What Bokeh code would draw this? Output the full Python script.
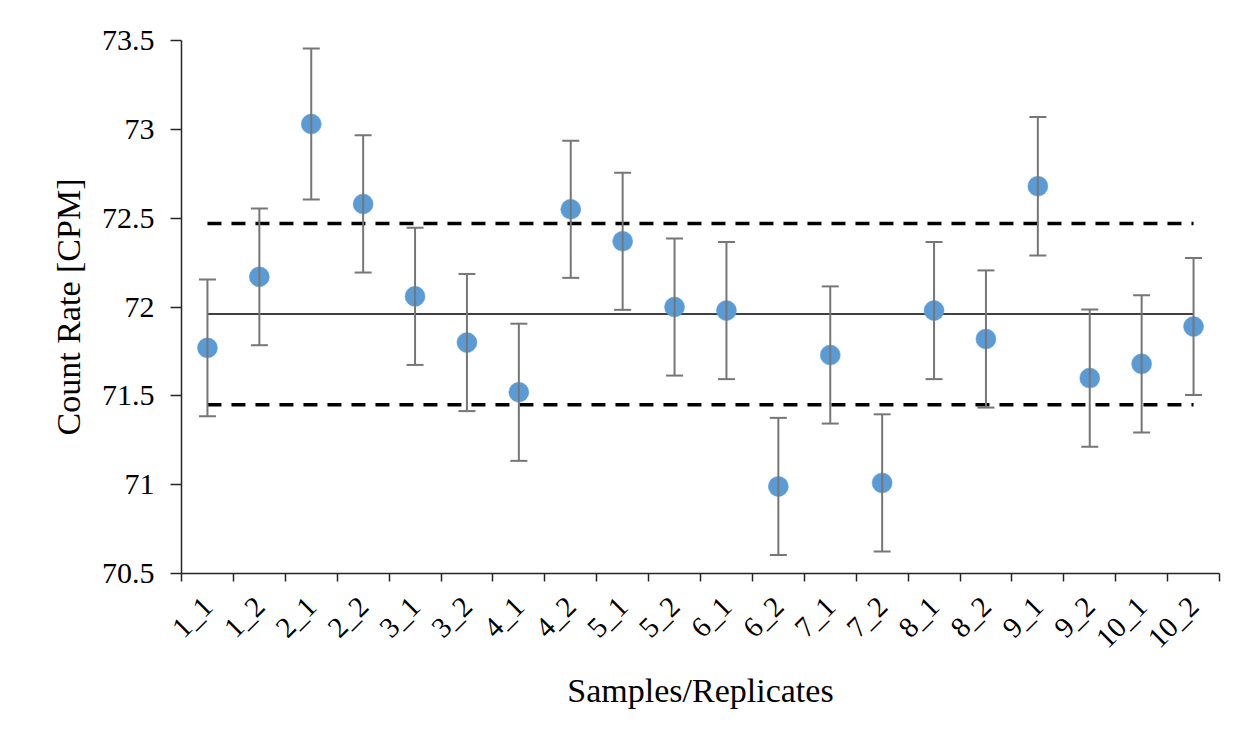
from bokeh.plotting import figure
from bokeh.models import (ColumnDataSource, Whisker, TeeHead, LinearAxis, FixedTicker,
                          CustomJSTickFormatter)
from bokeh.embed import file_html
from bokeh.resources import INLINE

# ---- data ----
samples = ["1_1", "1_2", "2_1", "2_2", "3_1", "3_2", "4_1", "4_2", "5_1", "5_2",
           "6_1", "6_2", "7_1", "7_2", "8_1", "8_2", "9_1", "9_2", "10_1", "10_2"]
count_rate = [71.77, 72.17, 73.03, 72.58, 72.06, 71.80, 71.52, 72.55, 72.37, 72.00,
              71.98, 70.99, 71.73, 71.01, 71.98, 71.82, 72.68, 71.60, 71.68, 71.89]
error = [0.385, 0.385, 0.425, 0.386, 0.386, 0.386, 0.386, 0.386, 0.386, 0.386,
         0.386, 0.386, 0.386, 0.386, 0.386, 0.386, 0.39, 0.386, 0.386, 0.386]
mean_value = 71.96
upper_limit = 72.47
lower_limit = 71.45
y_ticks = [70.5, 71.0, 71.5, 72.0, 72.5, 73.0, 73.5]

FONT = "Liberation Serif"

source = ColumnDataSource(dict(
    x=samples,
    y=count_rate,
    upper=[v + e for v, e in zip(count_rate, error)],
    lower=[v - e for v, e in zip(count_rate, error)],
))

p = figure(x_range=samples, y_range=(y_ticks[0], y_ticks[-1]),
           width=1242, height=741, output_backend="svg", toolbar_location=None,
           x_axis_location=None, min_border_left=181, min_border_right=23,
           min_border_top=40, min_border_bottom=168)
p.outline_line_color = None
p.xgrid.visible = False
p.ygrid.visible = False
p.background_fill_color = "white"
p.border_fill_color = "white"

# x axis: labels at category centres, tick marks at category boundaries
n = len(samples)
xaxis = LinearAxis(
    ticker=FixedTicker(ticks=[i + 0.5 for i in range(n)], minor_ticks=list(range(n + 1))),
    formatter=CustomJSTickFormatter(args=dict(labels=samples),
                                    code="return labels[Math.floor(tick)];"),
)
xaxis.major_label_orientation = 0.785398
xaxis.major_tick_out = 0
xaxis.major_tick_in = 0
xaxis.minor_tick_out = 8
xaxis.minor_tick_in = 0
xaxis.minor_tick_line_color = "#262626"
xaxis.minor_tick_line_width = 1.5
xaxis.axis_line_color = "#262626"
xaxis.axis_line_width = 1.5
xaxis.major_label_text_font = FONT
xaxis.major_label_text_font_size = "29px"
xaxis.major_label_text_color = "#000000"
xaxis.major_label_standoff = 20
xaxis.axis_label = "Samples/Replicates"
xaxis.axis_label_text_font = FONT
xaxis.axis_label_text_font_style = "normal"
xaxis.axis_label_text_font_size = "34px"
xaxis.axis_label_text_color = "#000000"
xaxis.axis_label_standoff = 4
p.add_layout(xaxis, "below")

yaxis = p.yaxis[0]
yaxis.ticker = FixedTicker(ticks=y_ticks, minor_ticks=[])
yaxis.formatter = CustomJSTickFormatter(code="return String(Number(tick.toFixed(1)));")
yaxis.major_tick_out = 11
yaxis.major_tick_in = 0
yaxis.minor_tick_out = 0
yaxis.minor_tick_in = 0
yaxis.major_tick_line_color = "#262626"
yaxis.major_tick_line_width = 1.5
yaxis.axis_line_color = "#262626"
yaxis.axis_line_width = 1.5
yaxis.major_label_text_font = FONT
yaxis.major_label_text_font_size = "30px"
yaxis.major_label_text_color = "#000000"
yaxis.major_label_standoff = 16
yaxis.axis_label = "Count Rate [CPM]"
yaxis.axis_label_text_font = FONT
yaxis.axis_label_text_font_style = "normal"
yaxis.axis_label_text_font_size = "34px"
yaxis.axis_label_text_color = "#000000"
yaxis.axis_label_standoff = 12

# reference lines
p.line(x=[samples[0], samples[-1]], y=[mean_value, mean_value],
       line_color="#404040", line_width=2)
p.line(x=[samples[0], samples[-1]], y=[upper_limit, upper_limit],
       line_color="#000000", line_width=3.5, line_dash="14 10")
p.line(x=[samples[0], samples[-1]], y=[lower_limit, lower_limit],
       line_color="#000000", line_width=3.5, line_dash="14 10")

# error bars
whisk = Whisker(source=source, base="x", upper="upper", lower="lower",
                line_color="#767676", line_width=2, level="glyph",
                upper_head=TeeHead(size=17, line_color="#767676", line_width=2),
                lower_head=TeeHead(size=17, line_color="#767676", line_width=2))
p.add_layout(whisk)

# points
p.scatter(x="x", y="y", source=source, size=20, fill_color="#5B9BD5",
          line_color="#5B9BD5", line_width=0.5)

open("out.html", "w").write(file_html(p, INLINE))
